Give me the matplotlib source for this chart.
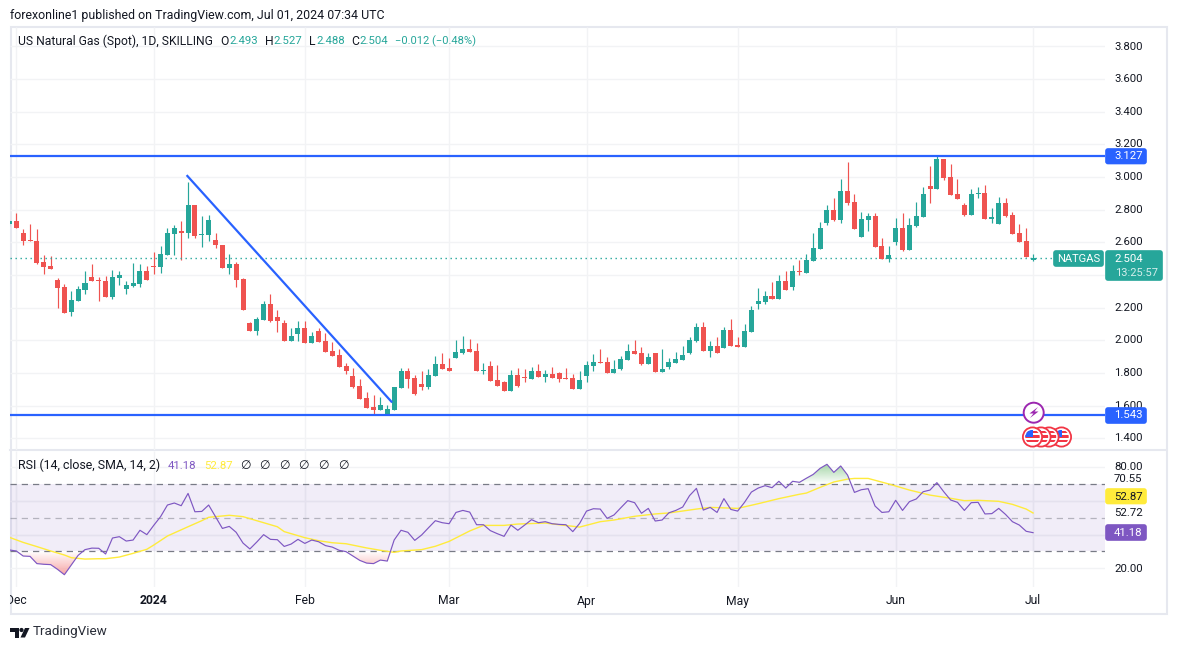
import matplotlib
matplotlib.use("Agg")
import matplotlib.pyplot as plt
from matplotlib.patches import Rectangle, FancyBboxPatch, Circle, Polygon
from matplotlib.path import Path
import numpy as np

plt.rcParams['font.family'] = ['Roboto', 'DejaVu Sans']

W, H = 1177, 650
UP, DOWN = '#26a69a', '#ef5350'
BLUE = '#2962ff'
PURPLE = '#7e57c2'
YELLOW = '#ffeb3b'
TXT = '#131722'
GRID = '#f2f3f5'
FRAME = '#e6e8ef'

bars = list(range(150))

opens = [2.713,2.732,2.658,2.615,2.609,2.481,2.456,2.371,2.328,2.175,2.242,2.309,2.389,2.371,2.364,2.266,2.383,2.315,2.334,2.346,
 2.426,2.456,2.450,2.524,2.652,2.671,2.658,2.830,2.646,2.646,2.615,2.585,2.444,2.469,2.377,2.107,2.058,2.126,2.224,2.144,
 2.107,1.997,2.040,2.076,1.984,2.058,1.997,1.935,1.911,1.844,1.782,1.721,1.648,1.592,1.574,1.544,1.574,1.709,1.813,1.770,
 1.733,1.715,1.782,1.856,1.831,1.892,1.923,1.948,1.935,1.813,1.844,1.758,1.746,1.690,1.788,1.776,1.764,1.813,1.776,1.795,
 1.801,1.770,1.770,1.703,1.782,1.844,1.868,1.868,1.801,1.825,1.880,1.935,1.923,1.856,1.923,1.807,1.838,1.862,1.880,1.923,
 1.997,2.082,1.935,1.966,1.954,2.064,1.972,1.960,2.052,2.223,2.235,2.272,2.254,2.364,2.327,2.425,2.413,2.487,2.560,2.719,
 2.799,2.738,2.915,2.848,2.634,2.738,2.762,2.578,2.499,2.603,2.689,2.554,2.701,2.756,2.946,2.927,3.111,3.001,2.897,2.829,
 2.768,2.897,2.903,2.744,2.713,2.842,2.768,2.658,2.609,2.493]

closes = [2.732,2.689,2.609,2.609,2.475,2.450,2.438,2.322,2.168,2.248,2.315,2.352,2.364,2.364,2.266,2.389,2.401,2.340,2.352,2.426,
 2.371,2.450,2.530,2.658,2.689,2.658,2.830,2.640,2.652,2.738,2.585,2.444,2.469,2.371,2.187,2.058,2.132,2.224,2.120,2.120,
 1.997,2.028,2.077,1.984,2.027,1.990,1.929,1.905,1.837,1.813,1.715,1.641,1.586,1.574,1.605,1.580,1.715,1.813,1.764,1.672,
 1.715,1.788,1.856,1.825,1.813,1.929,1.948,1.929,1.813,1.819,1.752,1.721,1.690,1.788,1.721,1.770,1.813,1.776,1.795,1.770,
 1.764,1.764,1.703,1.758,1.850,1.868,1.862,1.801,1.825,1.886,1.935,1.917,1.856,1.899,1.807,1.825,1.868,1.886,1.911,2.003,
 2.082,1.935,1.966,1.923,2.064,1.966,1.960,2.058,2.187,2.242,2.272,2.254,2.364,2.309,2.425,2.419,2.493,2.566,2.689,2.799,
 2.738,2.915,2.842,2.683,2.744,2.762,2.572,2.499,2.523,2.689,2.554,2.707,2.762,2.897,2.927,3.111,2.995,2.891,2.866,2.768,
 2.897,2.903,2.744,2.756,2.842,2.762,2.652,2.603,2.511,2.504]

highs = [2.740,2.783,2.681,2.713,2.683,2.524,2.517,2.383,2.346,2.303,2.334,2.426,2.469,2.389,2.395,2.432,2.426,2.364,2.475,2.469,
 2.456,2.542,2.579,2.689,2.707,2.732,2.971,2.830,2.762,2.768,2.658,2.585,2.530,2.481,2.383,2.113,2.144,2.242,2.285,2.187,
 2.126,2.077,2.119,2.119,2.052,2.076,2.046,1.990,1.948,1.862,1.831,1.764,1.684,1.666,1.654,1.605,1.715,1.831,1.831,1.788,
 1.813,1.825,1.905,1.923,1.892,2.003,2.027,2.009,1.984,1.862,1.874,1.850,1.752,1.819,1.831,1.825,1.837,1.856,1.819,1.837,
 1.807,1.831,1.795,1.813,1.874,1.917,1.948,1.899,1.880,1.905,1.978,2.003,1.960,1.923,1.923,1.948,1.893,1.929,1.966,2.021,
 2.107,2.113,1.997,2.021,2.082,2.131,2.021,2.101,2.211,2.321,2.303,2.358,2.401,2.425,2.462,2.493,2.529,2.658,2.725,2.829,
 2.872,2.989,3.093,2.897,2.787,2.781,2.781,2.627,2.578,2.750,2.781,2.750,2.848,2.940,3.068,3.129,3.111,3.080,2.989,2.842,
 2.927,2.940,2.952,2.811,2.878,2.872,2.787,2.713,2.689,2.527]

lows = [2.700,2.689,2.585,2.609,2.469,2.407,2.438,2.199,2.168,2.150,2.242,2.285,2.364,2.242,2.266,2.254,2.340,2.285,2.328,2.328,
 2.371,2.407,2.413,2.524,2.524,2.493,2.628,2.628,2.573,2.609,2.566,2.444,2.407,2.328,2.187,2.058,2.034,2.126,2.113,2.052,
 1.997,1.997,1.997,1.984,1.984,1.990,1.929,1.905,1.837,1.795,1.709,1.641,1.586,1.541,1.574,1.541,1.574,1.709,1.709,1.666,
 1.697,1.703,1.782,1.825,1.813,1.892,1.917,1.929,1.813,1.795,1.752,1.721,1.690,1.690,1.715,1.746,1.764,1.776,1.746,1.770,
 1.746,1.764,1.703,1.703,1.746,1.813,1.862,1.801,1.801,1.819,1.880,1.917,1.850,1.856,1.807,1.807,1.825,1.862,1.880,1.917,
 1.991,1.935,1.899,1.923,1.954,1.966,1.960,1.960,2.052,2.193,2.223,2.254,2.254,2.309,2.309,2.401,2.413,2.487,2.560,2.707,
 2.732,2.719,2.829,2.683,2.634,2.670,2.572,2.499,2.481,2.585,2.548,2.554,2.695,2.756,2.842,2.927,2.982,2.891,2.866,2.762,
 2.768,2.872,2.744,2.719,2.713,2.756,2.652,2.603,2.511,2.488]

rsi = [30.9,30.3,27.3,27.1,22.8,22.4,22.2,19.4,16.2,22.0,27.7,31.1,32.0,31.9,28.5,38.0,38.8,36.2,36.8,42.6,
 40.0,45.5,50.7,57.6,58.8,57.2,64.5,53.6,53.8,57.6,50.7,43.7,44.9,41.4,35.0,31.5,35.6,40.0,37.2,37.0,
 33.0,34.4,37.2,34.8,36.8,35.8,33.5,32.6,30.7,29.9,27.3,24.7,23.1,22.8,24.9,24.3,36.8,42.6,41.4,36.6,
 39.8,44.1,48.3,47.1,46.5,53.2,54.4,53.4,45.9,45.9,42.4,40.6,39.0,45.7,42.6,45.7,48.9,47.1,47.7,46.5,
 46.1,45.9,41.8,46.7,54.0,55.4,55.2,49.7,51.7,56.0,60.2,59.0,52.7,55.6,48.1,48.7,53.0,54.4,56.4,63.2,
 67.5,54.6,56.2,53.2,61.4,55.0,54.0,59.2,65.3,67.7,69.1,67.9,71.7,67.7,71.7,71.1,73.5,75.8,79.4,81.8,
 77.0,80.8,75.4,65.1,66.7,67.3,57.0,53.2,53.6,60.4,54.4,59.6,61.2,65.5,66.5,70.9,65.5,60.6,59.2,54.4,
 59.0,59.2,52.3,52.5,55.6,52.0,47.7,45.7,42.0,41.18]

sma_bars = [0,2,4,6,8,9,11,13,14,16,18,20,21,23,26,28,29,32,34,36,39,40,43,45,47,49,52,54,56,57,60,62,64,67,69,72,74,78,80,83,
 86,88,91,94,96,100,102,106,109,112,115,116,118,120,122,123,125,128,131,134,137,139,141,144,146,148,149]
sma = [38.4,35.4,32.9,30.3,27.9,26.3,25.5,25.7,25.7,26.7,28.9,31.3,33.8,39.2,44.7,48.3,50.3,51.5,50.7,48.3,44.7,41.8,38.2,36.4,35.2,34.6,32.1,30.7,29.5,30.3,31.1,33.1,36.0,42.2,45.5,45.5,46.3,46.9,45.9,44.5,
 47.7,48.7,50.9,52.3,52.9,55.2,56.2,55.6,58.4,61.4,64.0,64.7,68.1,71.3,73.0,73.4,73.4,70.1,66.5,63.5,61.6,60.2,60.4,59.8,58.0,55.2,52.87]

# 2.400 sits under the last-price tag in the reference, so it is not listed
price_ticks = [1.4,1.6,1.8,2.0,2.2,2.4,2.6,2.8,3.0,3.2,3.4,3.6,3.8]
price_tick_labels = ['1.400','1.600','1.800','2.000','2.200','','2.600','2.800','3.000','3.200','3.400','3.600','3.800']
rsi_grid = [20,40,60,80]
month_bars = [1,21,43,64,84,106,129,149]
month_labels = ['Dec','2024','Feb','Mar','Apr','May','Jun','Jul']

res_level, sup_level, last_price = 3.127, 1.543, 2.504
trend_bars, trend_prices = [25.9,55.6], [3.007,1.625]

def px_axes(l, t, r, b):
    return fig.add_axes([l/W, 1-b/H, (r-l)/W, (b-t)/H])

fig = plt.figure(figsize=(W/100, H/100), dpi=100, facecolor='white')

# pane frame, underneath everything
bg = fig.add_axes([0, 0, 1, 1], facecolor='none')
bg.set_xlim(0, W); bg.set_ylim(H, 0); bg.axis('off')
bg.add_patch(Rectangle((10.5, 26.5), 1156, 587.5, fill=False, ec=FRAME, lw=1.5))
bg.plot([10, 1166], [450, 450], color=FRAME, lw=1.5)

# x scale shared by panes: 6.87 px per bar, bar 1 at px 16.3
xlim = (1+(10-16.3)/6.87, 1+(1105-16.3)/6.87)

ax = px_axes(10, 27, 1105, 450)
ax.set_xlim(xlim); ax.set_ylim(1.329, 3.919)
ax.axis('off')
ax.hlines(price_ticks, *xlim, color=GRID, lw=1, zorder=0)
ax.vlines(month_bars, 1.329, 3.919, color=GRID, lw=1, zorder=0)
o, c, hi, lo = map(np.array, (opens, closes, highs, lows))
cols = np.where(c >= o, UP, DOWN)
ax.vlines(bars, lo, hi, colors=cols, lw=0.85, zorder=2)
ax.bar(bars, np.abs(c-o), bottom=np.minimum(o, c), width=0.73, color=cols, linewidth=0, zorder=3)
ax.hlines(last_price, xlim[0], 1+(1053-16.3)/6.87, color=UP, lw=1, linestyle=(0, (1, 2.6)), zorder=2)
ax.hlines([res_level, sup_level], *xlim, color=BLUE, lw=1.6, zorder=4)
ax.plot(trend_bars, trend_prices, color=BLUE, lw=1.6, zorder=4)

# RSI pane
ar = px_axes(10, 451, 1105, 587)
ylo, yhi = 8.9, 89.7
ar.set_xlim(xlim); ar.set_ylim(ylo, yhi)
ar.axis('off')
ar.hlines(rsi_grid, *xlim, color=GRID, lw=1, zorder=0)
ar.vlines(month_bars, ylo, yhi, color=GRID, lw=1, zorder=0)
ar.axhspan(30, 70, color=PURPLE, alpha=0.1, lw=0, zorder=1)
ar.vlines(month_bars, 30, 70, color='#e4e1ee', lw=1, zorder=1.1)
ar.hlines(rsi_grid[1:3], *xlim, color='#e4e1ee', lw=1, zorder=1.1)
ar.hlines([70, 30], *xlim, color='#787b86', lw=0.9, linestyle=(0, (5, 4)), zorder=2)
ar.hlines(50, *xlim, color='#787b86', lw=0.9, alpha=0.5, linestyle=(0, (5, 4)), zorder=2)

def gradient_fill(y2, ref, c_far, ymin, ymax, where):
    poly = ar.fill_between(bars, y2, ref, where=where, interpolate=True, color='none', lw=0)
    t = np.linspace(0, 1, 64).reshape(-1, 1)
    far = np.array(matplotlib.colors.to_rgb(c_far))
    img = np.ones((64, 1, 4)); img[..., :3] = far
    img[..., 3] = (t if ymax > ref else 1-t)
    im = ar.imshow(img, extent=(xlim[0], xlim[1], ymin, ymax), origin='lower', aspect='auto', zorder=1.5)
    path = Path.make_compound_path(*poly.get_paths())
    im.set_clip_path(path, transform=ar.transData)
    ar.set_xlim(xlim); ar.set_ylim(ylo, yhi)

r = np.array(rsi)
gradient_fill(r, 30, '#f7a5a5', 16.2, 30, r < 30)
gradient_fill(r, 70, '#a5d6a7', 70, 81.8, r > 70)
ar.plot(sma_bars, sma, color=YELLOW, lw=1.0, zorder=3, solid_joinstyle='round')
ar.plot(bars, rsi, color=PURPLE, lw=0.85, zorder=4, solid_joinstyle='round')

# overlay in pixel coordinates
ov = fig.add_axes([0, 0, 1, 1], facecolor='none')
ov.set_xlim(0, W); ov.set_ylim(H, 0); ov.axis('off')

FS = 8.7
NUM = 8.2
def label(x, y, s, color=TXT, fs=NUM, ha='left', **kw):
    return ov.text(x, y, s, color=color, fontsize=fs, ha=ha, va='center', **kw)

def box(x0, y0, x1, y1, fc):
    ov.add_patch(FancyBboxPatch((x0+1, y0+1), x1-x0-2, y1-y0-2, boxstyle='round,pad=0,rounding_size=2',
                                mutation_aspect=1, fc=fc, ec=fc, lw=1.2, zorder=5))

label(10, 15, 'forexonline1 published on TradingView.com, Jul 01, 2024 07:34 UTC', fs=8.9)
label(18, 41.5, 'US Natural Gas (Spot), 1D, SKILLING', fs=FS)
for xl, l, xv, v in [(220, 'O', 229, '2.493'), (265.5, 'H', 273.5, '2.527'), (309, 'L', 316, '2.488'), (351, 'C', 359, '2.504')]:
    label(xl, 41.5, l, fs=FS)
    label(xv, 41.5, v, color=UP)
label(395, 41.5, '\u22120.012 (\u22120.48%)', color=UP, fs=8.0)

# price axis labels
for p, s in zip(price_ticks, price_tick_labels):
    if s:
        label(1114, 46.5+(3.8-p)*163.3, s)
box(1105, 148, 1147, 164.5, BLUE)
label(1114, 156.3, '3.127', color='white', zorder=6)
box(1105, 407, 1147, 424, BLUE)
label(1114, 415.5, '1.543', color='white', zorder=6)
box(1053, 250, 1104, 267, UP)
label(1057, 258.5, 'NATGAS', color='white', fs=8.0, zorder=6)
box(1105, 250, 1163, 281, UP)
label(1114, 258.5, '2.504', color='white', zorder=6)
label(1115, 272.5, '13:25:57', color='#d4eeeb', fs=8.0, zorder=6)

# RSI labels
label(18, 465.8, 'RSI (14, close, SMA, 14, 2)', fs=8.9)
label(168, 465.8, '41.18', color=PURPLE)
label(204, 465.8, '52.87', color=YELLOW)
for x in [245, 264.5, 284, 303.5, 323, 343]:
    label(x, 465.8, '\u2205', ha='center', fs=FS)
label(1114, 466.5, '80.00')
label(1114, 479.5, '70.55')
box(1105, 488, 1147, 504.5, YELLOW)
label(1114, 496.5, '52.87', zorder=6)
label(1114, 513.5, '52.72')
box(1105, 524, 1147, 541, PURPLE)
label(1114, 532.5, '41.18', color='white', zorder=6)
label(1114, 568.5, '20.00')

# date labels, clipped at the pane's left edge
ad = px_axes(10, 590, 1105, 612)
ad.set_xlim(xlim); ad.set_ylim(0, 1); ad.axis('off')
for b, s in zip(month_bars, month_labels):
    ad.text(b, 0.5, s, color=TXT, fontsize=FS, ha='center', va='center', clip_on=True,
            fontweight='bold' if s == '2024' else 'normal')

# event icons
ov.add_patch(Circle((1033.7, 412.7), 10, fc='white', ec='#9c27b0', lw=1.4, zorder=7))
ov.add_patch(Polygon([(1038, 407), (1029.5, 413.5), (1033.5, 413.5), (1030, 418), (1038.5, 411.5), (1034.5, 411.5)],
                     fc='#9c27b0', ec='none', zorder=8))
for i, x in enumerate([1061.5, 1049, 1041, 1032.5]):
    z = 7 + i*0.1
    ov.add_patch(Circle((x, 437), 9.6, fc='white', ec='#f23645', lw=1.3, zorder=z))
    inner = Circle((x, 437), 7.2, fc='white', ec='none', zorder=z)
    ov.add_patch(inner)
    for yy in (430.6, 435.2, 439.8):
        s = Rectangle((x-8, yy), 16, 2.4, fc='#f23645', ec='none', zorder=z+0.01)
        ov.add_patch(s); s.set_clip_path(inner)
    s = Rectangle((x-8, 429.5), 8, 7, fc='#2962ff', ec='none', zorder=z+0.02)
    ov.add_patch(s); s.set_clip_path(inner)

# TradingView mark and wordmark
ov.add_patch(Polygon([(10, 628), (19, 628), (19, 637.5), (14.5, 637.5), (14.5, 632), (10, 632)], fc=TXT, ec='none'))
ov.add_patch(Circle((21.5, 630), 2.1, fc=TXT, ec='none'))
ov.add_patch(Polygon([(25, 628), (29.5, 628), (25, 637.5), (20.5, 637.5)], fc=TXT, ec='none'))
label(33, 632, 'TradingView', fs=9.7, color='#2a2e39')

fig.savefig('out.png', dpi=100, facecolor='white')
